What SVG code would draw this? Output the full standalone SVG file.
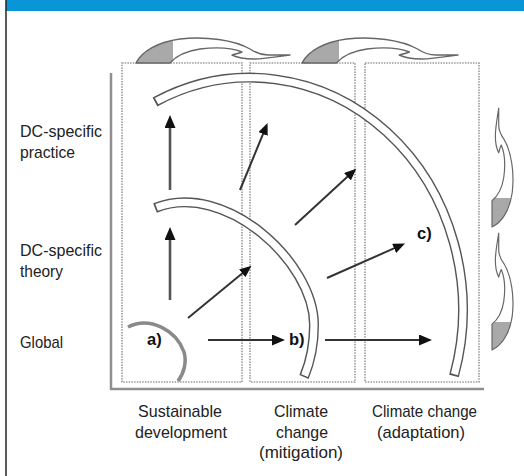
<svg xmlns="http://www.w3.org/2000/svg" width="524" height="476" viewBox="0 0 524 476">
<defs>
<style>
.lbl{font-family:"Liberation Sans",Arial,sans-serif;font-size:17px;fill:#222}
.tag{font-family:"Liberation Sans",Arial,sans-serif;font-size:16.5px;font-weight:bold;fill:#111}
.col{fill:none;stroke:#9a9a9a;stroke-width:1.6;stroke-dasharray:1.5 1.2}
.axis{fill:none;stroke:#8f8f8f;stroke-width:2.5}
.bandO{fill:none;stroke:#555;stroke-width:10}
.bandI{fill:none;stroke:#fff;stroke-width:7.2}
.conn{stroke:#333;stroke-width:2;fill:none}
.vert{stroke:#555;stroke-width:2.6;fill:none}
.curl{fill:url(#tail);stroke:#666;stroke-width:1.4;stroke-linejoin:round}
</style>
<linearGradient id="tail" gradientUnits="userSpaceOnUse" x1="0" y1="0" x2="154" y2="0">
<stop offset="0.24" stop-color="#a9a9a9"/><stop offset="0.24" stop-color="#fff"/>
</linearGradient>
<path id="curlShape" d="M0,0 C6,-12 22,-21 44,-24 C70,-27 98,-23 114,-14 C120,-10 126,-8 132,-8 L154,-8 C140,-6 128,-4 118,-4 C108,-4 100,-6 96,-8 C100,-9 104,-10 106,-11 C96,-15 80,-16 64,-14 C50,-12 40,-7 34,0 Z"/>
<marker id="ah" viewBox="0 0 13 11" markerWidth="13" markerHeight="11" refX="1" refY="5.5" orient="auto" markerUnits="userSpaceOnUse">
<path d="M0,0 L13,5.5 L0,11 Z" fill="#111"/>
</marker>
<marker id="ahd" viewBox="0 0 12 10" markerWidth="12" markerHeight="10" refX="1" refY="5" orient="auto" markerUnits="userSpaceOnUse">
<path d="M0,0 L12,5 L0,10 Z" fill="#111"/>
</marker>
</defs>
<rect width="524" height="476" fill="#fff"/>
<rect x="6" y="0" width="518" height="11" fill="#0896d6"/>
<line x1="6" y1="0" x2="6" y2="476" stroke="#222" stroke-width="1.5"/>

<g id="axes">
<polyline class="axis" points="111,73 111,389 484,389"/>
</g>

<g id="col-sustainable"><rect class="col" x="122" y="63" width="120" height="319"/></g>
<g id="col-mitigation"><rect class="col" x="250" y="63" width="105" height="319"/></g>
<g id="col-adaptation"><rect class="col" x="365" y="63" width="114" height="319"/></g>

<g id="top-curls">
<use href="#curlShape" class="curl" transform="translate(136,63)"/>
<use href="#curlShape" class="curl" transform="translate(302,63) scale(1.013,1)"/>
</g>
<g id="side-curls">
<use href="#curlShape" class="curl" transform="matrix(0,-0.773,-0.84,0,492,227)"/>
<use href="#curlShape" class="curl" transform="matrix(0,-0.76,-0.84,0,492,350)"/>
</g>

<g id="band-a">
<path d="M128,327 C150,316 176,330 184,352 C187,362 184,373 178,381" fill="none" stroke="#8a8a8a" stroke-width="3.5"/>
<text class="tag" x="147" y="345">a)</text>
</g>
<g id="band-b">
<path class="bandO" d="M155,208 C225,180 314,262 314,325 C314,350 309,365 304,377"/>
<path class="bandI" pathLength="100" stroke-dasharray="0 0.6 98.8 10" d="M155,208 C225,180 314,262 314,325 C314,350 309,365 304,377"/>
<text class="tag" x="289" y="345">b)</text>
</g>
<g id="band-c">
<path class="bandO" d="M155,102 A213,232 0 0 1 454,376"/>
<path class="bandI" pathLength="100" stroke-dasharray="0 0.35 99.3 10" d="M155,102 A213,232 0 0 1 454,376"/>
<text class="tag" x="417" y="239">c)</text>
</g>

<g id="connectors">
<line class="vert" x1="170" y1="190" x2="170" y2="127" marker-end="url(#ah)"/>
<line class="vert" x1="170" y1="300" x2="170" y2="239" marker-end="url(#ah)"/>
<line class="conn" x1="188" y1="318" x2="243" y2="272.7" marker-end="url(#ahd)"/>
<line class="conn" x1="240" y1="190" x2="263.4" y2="133.1" marker-end="url(#ahd)"/>
<line class="conn" x1="295" y1="225" x2="348.2" y2="176.1" marker-end="url(#ahd)"/>
<line class="conn" x1="327" y1="278" x2="395" y2="247.9" marker-end="url(#ahd)"/>
<line class="conn" x1="208" y1="340" x2="273" y2="340" marker-end="url(#ah)"/>
<line class="conn" x1="325" y1="340" x2="420" y2="340" marker-end="url(#ah)"/>
</g>

<g id="row-labels">
<text class="lbl" x="20" y="137" textLength="82" lengthAdjust="spacingAndGlyphs">DC-specific</text>
<text class="lbl" x="20" y="158" textLength="55" lengthAdjust="spacingAndGlyphs">practice</text>
<text class="lbl" x="20" y="256" textLength="82" lengthAdjust="spacingAndGlyphs">DC-specific</text>
<text class="lbl" x="20" y="277" textLength="43" lengthAdjust="spacingAndGlyphs">theory</text>
<text class="lbl" x="20" y="348" textLength="43" lengthAdjust="spacingAndGlyphs">Global</text>
</g>
<g id="col-labels">
<text class="lbl" x="138" y="417" textLength="84" lengthAdjust="spacingAndGlyphs">Sustainable</text>
<text class="lbl" x="135" y="438" textLength="92" lengthAdjust="spacingAndGlyphs">development</text>
<text class="lbl" x="274" y="417" textLength="54" lengthAdjust="spacingAndGlyphs">Climate</text>
<text class="lbl" x="276" y="438" textLength="52" lengthAdjust="spacingAndGlyphs">change</text>
<text class="lbl" x="259" y="458" textLength="84" lengthAdjust="spacingAndGlyphs">(mitigation)</text>
<text class="lbl" x="372" y="417" textLength="105" lengthAdjust="spacingAndGlyphs">Climate change</text>
<text class="lbl" x="377" y="438" textLength="88" lengthAdjust="spacingAndGlyphs">(adaptation)</text>
</g>
</svg>
